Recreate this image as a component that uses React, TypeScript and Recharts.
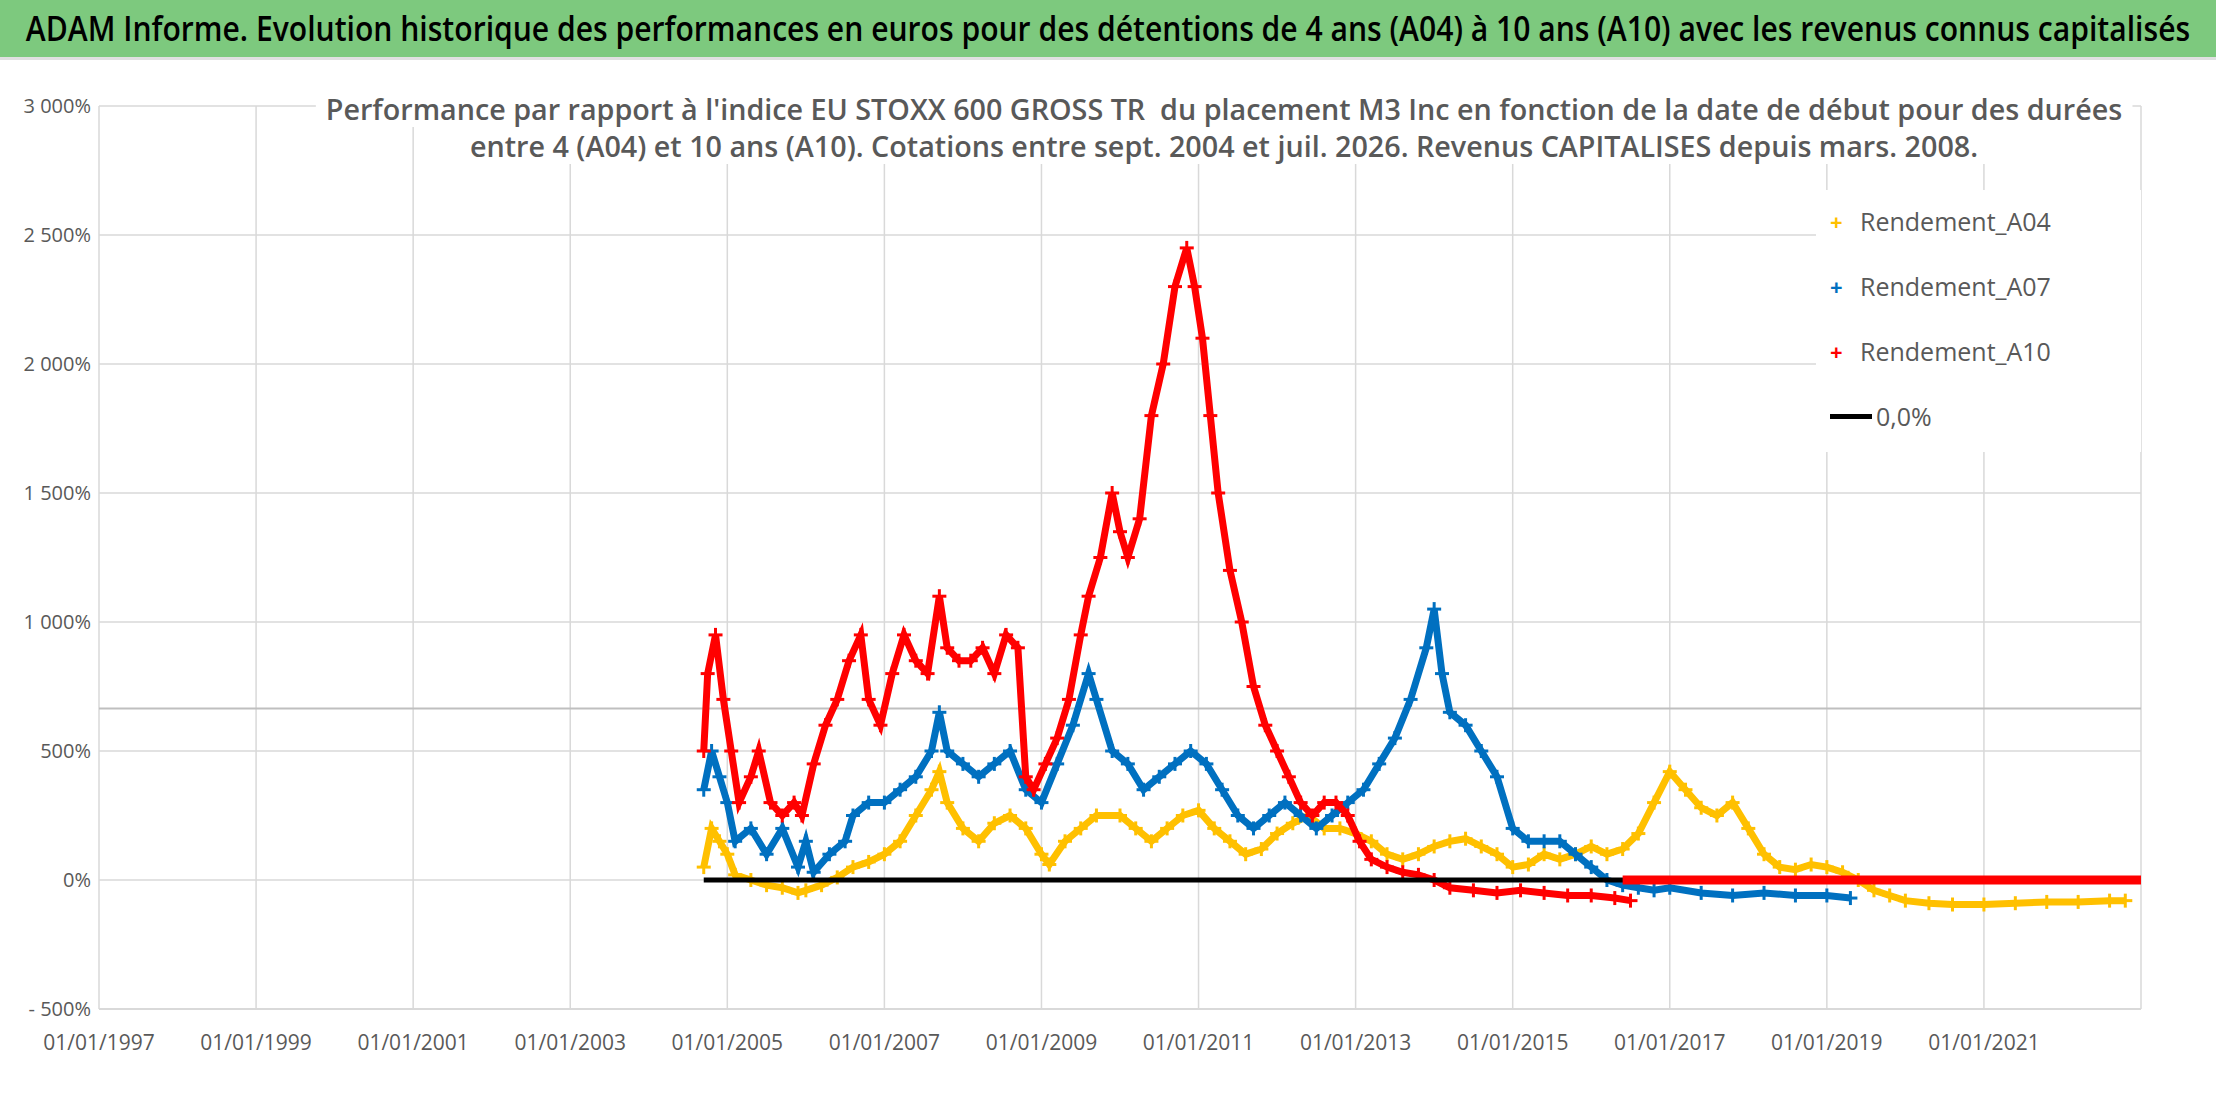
import { CartesianGrid, ReferenceLine, Scatter, ScatterChart, XAxis, YAxis } from "recharts";

const X_TICKS = [1997, 1999, 2001, 2003, 2005, 2007, 2009, 2011, 2013, 2015, 2017, 2019, 2021];
const Y_TICKS = [-500, 0, 500, 1000, 1500, 2000, 2500, 3000];

const A04_DATES = [2004.7, 2004.8, 2004.9, 2005.0, 2005.1, 2005.3, 2005.5, 2005.7, 2005.9, 2006.0, 2006.2, 2006.4, 2006.6, 2006.8, 2007.0, 2007.2, 2007.4, 2007.6, 2007.7, 2007.8, 2008.0, 2008.2, 2008.4, 2008.6, 2008.8, 2009.0, 2009.1, 2009.3, 2009.5, 2009.7, 2010.0, 2010.2, 2010.4, 2010.6, 2010.8, 2011.0, 2011.2, 2011.4, 2011.6, 2011.8, 2012.0, 2012.2, 2012.4, 2012.6, 2012.8, 2013.0, 2013.2, 2013.4, 2013.6, 2013.8, 2014.0, 2014.2, 2014.4, 2014.6, 2014.8, 2015.0, 2015.2, 2015.4, 2015.6, 2015.8, 2016.0, 2016.2, 2016.4, 2016.6, 2016.8, 2017.0, 2017.2, 2017.4, 2017.6, 2017.8, 2018.0, 2018.2, 2018.4, 2018.6, 2018.8, 2019.0, 2019.2, 2019.4, 2019.6, 2019.8, 2020.0, 2020.3, 2020.6, 2021.0, 2021.4, 2021.8, 2022.2, 2022.6, 2022.8];
const A04_VALUES = [50, 200, 150, 100, 20, 0, -20, -30, -50, -40, -20, 10, 50, 70, 100, 150, 250, 350, 420, 300, 200, 150, 220, 250, 200, 100, 60, 150, 200, 250, 250, 200, 150, 200, 250, 270, 200, 150, 100, 120, 180, 220, 250, 200, 200, 180, 150, 100, 80, 100, 130, 150, 160, 130, 100, 50, 60, 100, 80, 100, 130, 100, 120, 180, 300, 420, 350, 280, 250, 300, 200, 100, 50, 40, 60, 50, 30, 0, -40, -60, -80, -90, -95, -95, -90, -85, -85, -80, -80];

const A07_DATES = [2004.7, 2004.8, 2004.9, 2005.0, 2005.1, 2005.3, 2005.5, 2005.7, 2005.9, 2006.0, 2006.1, 2006.3, 2006.5, 2006.6, 2006.8, 2007.0, 2007.2, 2007.4, 2007.6, 2007.7, 2007.8, 2008.0, 2008.2, 2008.4, 2008.6, 2008.8, 2009.0, 2009.2, 2009.4, 2009.6, 2009.7, 2009.9, 2010.1, 2010.3, 2010.5, 2010.7, 2010.9, 2011.1, 2011.3, 2011.5, 2011.7, 2011.9, 2012.1, 2012.3, 2012.5, 2012.7, 2012.9, 2013.1, 2013.3, 2013.5, 2013.7, 2013.9, 2014.0, 2014.1, 2014.2, 2014.4, 2014.6, 2014.8, 2015.0, 2015.2, 2015.4, 2015.6, 2015.8, 2016.0, 2016.2, 2016.4, 2016.6, 2016.8, 2017.0, 2017.4, 2017.8, 2018.2, 2018.6, 2019.0, 2019.3];
const A07_VALUES = [350, 500, 400, 300, 150, 200, 100, 200, 50, 150, 30, 100, 150, 250, 300, 300, 350, 400, 500, 650, 500, 450, 400, 450, 500, 350, 300, 450, 600, 800, 700, 500, 450, 350, 400, 450, 500, 450, 350, 250, 200, 250, 300, 250, 200, 250, 300, 350, 450, 550, 700, 900, 1050, 800, 650, 600, 500, 400, 200, 150, 150, 150, 100, 50, 0, -20, -30, -40, -30, -50, -60, -50, -60, -60, -70];

const A10_DATES = [2004.7, 2004.75, 2004.85, 2004.95, 2005.05, 2005.15, 2005.3, 2005.4, 2005.55, 2005.7, 2005.85, 2005.95, 2006.1, 2006.25, 2006.4, 2006.55, 2006.7, 2006.8, 2006.95, 2007.1, 2007.25, 2007.4, 2007.55, 2007.7, 2007.8, 2007.95, 2008.1, 2008.25, 2008.4, 2008.55, 2008.7, 2008.8, 2008.9, 2009.05, 2009.2, 2009.35, 2009.5, 2009.6, 2009.75, 2009.9, 2010.0, 2010.1, 2010.25, 2010.4, 2010.55, 2010.7, 2010.85, 2010.95, 2011.05, 2011.15, 2011.25, 2011.4, 2011.55, 2011.7, 2011.85, 2012.0, 2012.15, 2012.3, 2012.45, 2012.6, 2012.75, 2012.9, 2013.05, 2013.2, 2013.4, 2013.6, 2013.8, 2014.0, 2014.2, 2014.5, 2014.8, 2015.1, 2015.4, 2015.7, 2016.0, 2016.3, 2016.5];
const A10_VALUES = [500, 800, 950, 700, 500, 300, 400, 500, 300, 250, 300, 250, 450, 600, 700, 850, 950, 700, 600, 800, 950, 850, 800, 1100, 900, 850, 850, 900, 800, 950, 900, 400, 350, 450, 550, 700, 950, 1100, 1250, 1500, 1350, 1250, 1400, 1800, 2000, 2300, 2450, 2300, 2100, 1800, 1500, 1200, 1000, 750, 600, 500, 400, 300, 250, 300, 300, 250, 150, 80, 50, 30, 20, 0, -30, -40, -50, -40, -50, -60, -60, -70, -80];

const A10_ZERO_DATES = [2016.4, 2023];
const ZERO_DATES = [2004.7, 2023];

const toPoints = (dates: number[], values: number[]) => dates.map((x, i) => ({ x, y: values[i] }));

const COLORS = { a04: "#FFC000", a07: "#0070C0", a10: "#FF0000", grid: "#D9D9D9", text: "#595959" };
const FONT = "'Open Sans', sans-serif";

const plus = (color: string) => (props: any) => {
  const { cx, cy } = props;
  return (
    <g stroke={color} strokeWidth={3}>
      <line x1={cx - 7} x2={cx + 7} y1={cy} y2={cy} />
      <line x1={cx} x2={cx} y1={cy - 7} y2={cy + 7} />
    </g>
  );
};

const yFmt = (v: number) => {
  if (v < 0) return `- ${Math.abs(v)}%`;
  if (v >= 1000) return `${Math.floor(v / 1000)} ${String(v % 1000).padStart(3, "0")}%`;
  return `${v}%`;
};

const legend = [
  { label: "Rendement_A04", color: COLORS.a04 },
  { label: "Rendement_A07", color: COLORS.a07 },
  { label: "Rendement_A10", color: COLORS.a10 },
];

const centered = (scale: number, top: number) => ({
  position: "absolute" as const,
  left: "50%",
  top,
  whiteSpace: "nowrap" as const,
  transform: `translateX(-50%) scaleX(${scale})`,
});

export default function App() {
  return (
    <div style={{ position: "absolute", left: 0, top: 0, width: 2216, height: 1102, background: "#fff", fontFamily: FONT, overflow: "hidden" }}>
      <div style={{ position: "absolute", left: 0, top: 0, width: 2216, height: 57, background: "#7DC97E", borderBottom: "3px solid #E0E0E0", lineHeight: "57px", fontSize: 34, fontWeight: 600, color: "#000" }}>
        <span style={centered(0.885, 0)}>ADAM Informe. Evolution historique des performances en euros pour des détentions de 4 ans (A04) à 10 ans (A10) avec les revenus connus capitalisés</span>
      </div>
      <ScatterChart width={2216} height={1102} margin={{ top: 106, right: 75, bottom: 63, left: 0 }}>
        <CartesianGrid stroke={COLORS.grid} strokeWidth={1.5} />
        <XAxis
          dataKey="x"
          type="number"
          domain={[1997, 2023]}
          ticks={X_TICKS}
          tickFormatter={(v) => `01/01/${v}`}
          tick={{ fill: COLORS.text, fontSize: 21, fontFamily: FONT }}
          tickLine={false}
          axisLine={{ stroke: COLORS.grid, strokeWidth: 2 }}
          tickMargin={20}
        />
        <YAxis
          dataKey="y"
          type="number"
          domain={[-500, 3000]}
          ticks={Y_TICKS}
          tickFormatter={yFmt}
          tick={{ fill: COLORS.text, fontSize: 20, fontFamily: FONT }}
          tickLine={false}
          axisLine={false}
          width={99}
        />
        <ReferenceLine y={665} stroke="#BFBFBF" strokeWidth={2} />
        <Scatter data={toPoints(A04_DATES, A04_VALUES)} line={{ stroke: COLORS.a04, strokeWidth: 7 }} shape={plus(COLORS.a04)} isAnimationActive={false} />
        <Scatter data={toPoints(A07_DATES, A07_VALUES)} line={{ stroke: COLORS.a07, strokeWidth: 7 }} shape={plus(COLORS.a07)} isAnimationActive={false} />
        <Scatter data={toPoints(A10_DATES, A10_VALUES)} line={{ stroke: COLORS.a10, strokeWidth: 7 }} shape={plus(COLORS.a10)} isAnimationActive={false} />
        <Scatter data={ZERO_DATES.map((x) => ({ x, y: 0 }))} line={{ stroke: "#000", strokeWidth: 5 }} shape={() => null} isAnimationActive={false} />
        <Scatter data={A10_ZERO_DATES.map((x) => ({ x, y: 0 }))} line={{ stroke: COLORS.a10, strokeWidth: 9 }} shape={() => null} isAnimationActive={false} />
      </ScatterChart>
      <div style={{ position: "absolute", left: 0, top: 0, width: 2447, fontSize: 29, fontWeight: 600, color: COLORS.text, lineHeight: "37px" }}>
        <span style={{ ...centered(0.99, 90), background: "#fff", padding: "0 10px" }}>Performance par rapport à l'indice EU STOXX 600 GROSS TR&nbsp; du placement M3 Inc en fonction de la date de début pour des durées</span>
        <span style={{ ...centered(0.99, 127), background: "#fff", padding: "0 10px" }}>entre 4 (A04) et 10 ans (A10). Cotations entre sept. 2004 et juil. 2026. Revenus CAPITALISES depuis mars. 2008.</span>
      </div>
      <div style={{ position: "absolute", left: 1816, top: 190, width: 325, height: 262, background: "#fff", fontSize: 25, color: COLORS.text }}>
        {legend.map((l, i) => (
          <div key={l.label} style={{ position: "absolute", left: 14, top: 14 + i * 65, display: "flex", alignItems: "center" }}>
            <span style={{ color: l.color, fontSize: 22, fontWeight: "bold", width: 30 }}>+</span>
            <span>{l.label}</span>
          </div>
        ))}
        <div style={{ position: "absolute", left: 14, top: 209, display: "flex", alignItems: "center" }}>
          <span style={{ display: "inline-block", width: 42, height: 5, background: "#000", marginRight: 4 }} />
          <span>0,0%</span>
        </div>
      </div>
    </div>
  );
}
